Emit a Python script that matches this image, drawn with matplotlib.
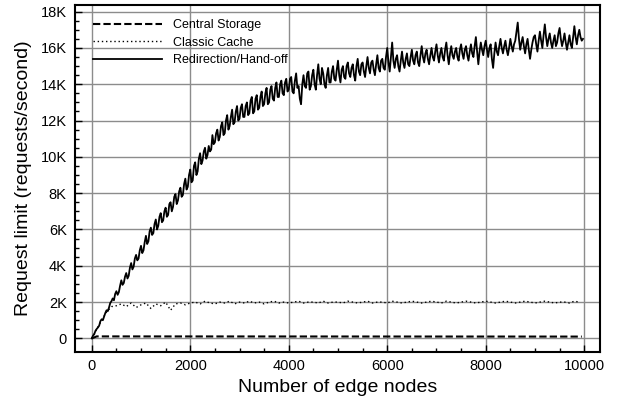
import matplotlib
matplotlib.use("Agg")
import matplotlib.pyplot as plt

# Number of edge nodes for each curve
redir_x = list(range(0, 10000, 25))
cache_x = list(range(0, 10000, 100))
central_x = [0, 100, 9950]

# Request limit (requests/second)
redir_y = [
    0, 150, 230, 420, 520, 600, 700, 950, 1050, 1000, 1200, 1400, 1550, 1500, 1700, 1950, 2050, 2200, 2100, 2450,
    2600, 2400, 2550, 2900, 3200, 2950, 3050, 3400, 3600, 3300, 3450, 3900, 4150, 3800, 3950, 4400, 4600, 4300, 4400, 4850,
    5100, 4700, 4850, 5300, 5650, 5200, 5350, 5900, 6100, 5700, 5800, 6300, 6550, 6000, 6200, 6700, 6900, 6400, 6500, 7000,
    7200, 6700, 6800, 7400, 7500, 7000, 7250, 7800, 7950, 7400, 7600, 8100, 8300, 7800, 7900, 8500, 8800, 8200, 8350, 9000,
    9300, 8600, 8700, 9500, 9700, 9000, 9200, 9900, 10200, 9600, 9800, 10300, 10500, 9900, 10100, 10600, 10300, 10400, 11200, 10700,
    10800, 11300, 11500, 10900, 11100, 11700, 11900, 11200, 11300, 12000, 12300, 11500, 11700, 12200, 12600, 11800, 11900, 12500, 12800, 12000,
    12100, 12700, 12900, 12200, 12200, 12800, 13000, 12300, 12400, 13100, 13300, 12400, 12500, 13200, 13400, 12600, 12700, 13300, 13600, 12800,
    12900, 13500, 13800, 12900, 13000, 13700, 13900, 13200, 13100, 13800, 14100, 13300, 13300, 14000, 14200, 13500, 13400, 14100, 14300, 13600,
    13700, 14300, 14400, 13600, 13500, 14200, 14600, 13800, 13900, 13200, 12900, 14000, 14500, 13900, 13800, 14600, 14700, 13700, 13900, 14500,
    14800, 14000, 13700, 14500, 15100, 14300, 14000, 14900, 14600, 14000, 13800, 14500, 14900, 14100, 14100, 14700, 15000, 14300, 14200, 14800,
    15300, 14500, 14100, 14800, 15000, 14400, 14300, 15000, 15200, 14600, 14400, 14900, 15100, 14500, 14200, 15000, 15400, 14700, 14500, 15100,
    15200, 14700, 14400, 15000, 15500, 14900, 14600, 15200, 15300, 14800, 14500, 15100, 15600, 14900, 14700, 15300, 15400, 14900, 14800, 15500,
    16000, 15200, 14700, 15500, 16300, 15300, 14900, 15400, 15600, 15000, 14700, 15300, 15800, 15200, 14900, 15400, 15700, 15100, 15000, 15500,
    15900, 15300, 15100, 15600, 15800, 15200, 15000, 15600, 16100, 15500, 15200, 15700, 15900, 15400, 15100, 15600, 16000, 15500, 15300, 15800,
    16200, 15600, 15200, 15700, 16000, 15500, 15300, 15900, 16300, 15600, 15100, 15700, 16100, 15600, 15400, 15800, 16000, 15500, 15300, 15900,
    16200, 15700, 15400, 15900, 16100, 15600, 15300, 15800, 16200, 15700, 15500, 16100, 16600, 15800, 15100, 15800, 16300, 15900, 15600, 16100,
    16400, 15900, 15500, 16000, 16200, 15400, 14900, 15700, 16300, 15800, 15600, 16100, 16500, 16000, 15700, 16100, 16400, 15900, 15600, 16000,
    16500, 16100, 15800, 16200, 16400, 16900, 17400, 16500, 15900, 16300, 16600, 16100, 15700, 16200, 16500, 15900, 15400, 15900, 16300, 16600,
    16700, 16200, 15800, 16400, 16900, 16400, 16000, 16700, 17300, 16600, 16100, 16500, 16800, 16300, 16000, 16400, 16700, 16100, 16300, 16800,
    17100, 16500, 16100, 16400, 16800, 16300, 15900, 16300, 16700, 16200, 16000, 16600, 17200, 16600, 16200, 16700, 17000, 16600, 16400, 16500,
]

cache_y = [
    0, 500, 1000, 1450, 1750, 1800, 1900, 1750, 1950, 1700,
    1850, 1950, 1650, 1900, 1800, 2000, 1550, 1900, 1950, 1850,
    1950, 2000, 1900, 2050, 1950, 1900, 2000, 1950, 2050, 1900,
    2000, 1950, 2050, 1950, 2000, 1900, 2000, 2050, 1950, 2000,
    1950, 2000, 2050, 1950, 2000, 2000, 1950, 2050, 1950, 2000,
    2000, 1950, 2050, 2000, 1950, 2000, 2050, 1950, 2000, 2000,
    1950, 2050, 2000, 1950, 2000, 2050, 2000, 1950, 2000, 2050,
    2000, 1950, 2050, 2000, 1950, 2000, 2050, 2000, 1950, 2000,
    2050, 2000, 1950, 2000, 2050, 2000, 1950, 2000, 2050, 2000,
    1950, 2000, 2050, 2000, 1950, 2000, 2000, 1950, 2050, 2000,
]

central_y = [0, 110, 100]

y_ticks = [0, 2000, 4000, 6000, 8000, 10000, 12000, 14000, 16000, 18000]
y_labels = ["0", "2K", "4K", "6K", "8K", "10K", "12K", "14K", "16K", "18K"]
x_ticks = [0, 2000, 4000, 6000, 8000, 10000]

plt.rcParams["font.family"] = ["Liberation Sans", "DejaVu Sans"]

fig = plt.figure(figsize=(6.17, 4.07), dpi=100)
ax = fig.add_axes([0.1216, 0.1351, 0.8508, 0.8519])

ax.plot(central_x, central_y, color="black", lw=1.5, dashes=(3.5, 1.5),
        label="Central Storage")
ax.plot(cache_x, cache_y, color="black", lw=1.0, dashes=(1, 2),
        label="Classic Cache")
ax.plot(redir_x, redir_y, color="black", lw=1.3, label="Redirection/Hand-off")

ax.set_xlim(-340, 10320)
ax.set_ylim(-750, 18350)
ax.set_xticks(x_ticks)
ax.set_xticks(range(0, 10001, 500), minor=True)
ax.set_yticks(y_ticks)
ax.set_yticklabels(y_labels)
ax.set_yticks(range(0, 18001, 500), minor=True)

ax.grid(True, which="major", color="#8c8c8c", lw=1.0)
ax.set_axisbelow(True)
ax.tick_params(which="both", direction="in", top=False, right=False,
               labelsize=10.5, width=1)
ax.tick_params(which="major", length=5)
ax.tick_params(which="minor", length=3)
ax.tick_params(axis="y", pad=6)
ax.tick_params(axis="x", pad=5)
for s in ax.spines.values():
    s.set_linewidth(1.5)

ax.set_xlabel("Number of edge nodes", fontsize=14, labelpad=4)
ax.set_ylabel("Request limit (requests/second)", fontsize=14, labelpad=6)

ax.legend(loc="upper left", bbox_to_anchor=(0.034, 0.96), frameon=False,
          fontsize=9, handlelength=5.5, handletextpad=0.9, labelspacing=0.45,
          borderpad=0, borderaxespad=0)

plt.savefig("out.png")
